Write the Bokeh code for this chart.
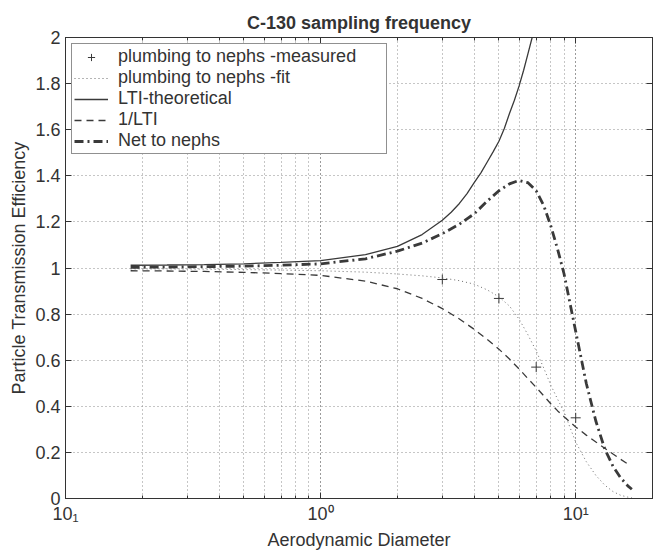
from bokeh.plotting import figure
from bokeh.models import (Range1d, LogAxis, LinearAxis, FixedTicker, LogTicker,
                          Legend, LegendItem, CustomJSTickFormatter)
from bokeh.embed import file_html
from bokeh.resources import INLINE

# ---------------- data ----------------
diam = [0.18, 0.25, 0.35, 0.5, 0.7, 1.0, 1.5, 2.0, 2.5, 3.0, 3.5, 4.0, 4.5, 5.0,
        5.5, 6.0, 6.5, 7.0, 7.5, 8.0, 8.5, 9.0, 10, 11, 12, 13, 14, 15, 16, 16.6]

fit_eff = [0.996, 0.996, 0.995, 0.993, 0.991, 0.988, 0.982, 0.974, 0.966, 0.957,
           0.945, 0.930, 0.905, 0.875, 0.835, 0.778, 0.710, 0.640, 0.565, 0.490,
           0.430, 0.375, 0.245, 0.160, 0.100, 0.058, 0.030, 0.014, 0.006, 0.003]

lti_diam = [0.18, 0.25, 0.35, 0.5, 0.7, 1.0, 1.5, 2.0, 2.5, 3.0, 3.25, 3.5, 3.75,
            4.0, 4.25, 4.5, 4.75, 5.0, 5.25, 5.5, 5.75, 6.0, 6.25, 6.5, 6.75, 7.0, 7.5]
lti_eff = [1.012, 1.013, 1.015, 1.018, 1.024, 1.032, 1.058, 1.094, 1.145, 1.207,
           1.242, 1.280, 1.323, 1.370, 1.413, 1.460, 1.505, 1.550, 1.605, 1.670,
           1.728, 1.790, 1.858, 1.930, 2.000, 2.070, 2.250]

inv_diam = [0.18, 0.25, 0.35, 0.5, 0.7, 1.0, 1.5, 2.0, 2.5, 3.0, 3.5, 4.0, 4.5,
            5.0, 5.5, 6.0, 6.5, 7.0, 7.5, 8.0, 8.5, 9.0, 10, 11, 12, 13, 14, 15, 16]
inv_lti_eff = [0.988, 0.987, 0.985, 0.981, 0.976, 0.968, 0.943, 0.910, 0.868, 0.824,
               0.779, 0.734, 0.690, 0.648, 0.605, 0.562, 0.520, 0.482, 0.445, 0.410,
               0.380, 0.355, 0.310, 0.275, 0.245, 0.218, 0.193, 0.170, 0.150]

net_eff = [1.003, 1.004, 1.006, 1.008, 1.012, 1.018, 1.040, 1.073, 1.108, 1.149,
           1.190, 1.235, 1.290, 1.335, 1.365, 1.380, 1.370, 1.335, 1.270, 1.180,
           1.080, 0.975, 0.725, 0.500, 0.335, 0.215, 0.140, 0.090, 0.055, 0.040]

meas_diam = [3, 5, 7, 10]
meas_eff = [0.950, 0.868, 0.570, 0.350]

x_tick_vals = [0.1, 1, 10]
x_tick_labels = ["10\u2081", "10\u2070", "10\u00b9"]
y_tick_vals = [0, 0.2, 0.4, 0.6, 0.8, 1.0, 1.2, 1.4, 1.6, 1.8, 2.0]
y_tick_labels = ["0", "0.2", "0.4", "0.6", "0.8", "1", "1.2", "1.4", "1.6", "1.8", "2"]

title_text = "C-130 sampling frequency"
x_label = "Aerodynamic Diameter"
y_label = "Particle Transmission Efficiency"
legend_labels = ["plumbing to nephs -measured", "plumbing to nephs -fit",
                 "LTI-theoretical", "1/LTI", "Net to nephs"]

# ---------------- styling ----------------
FONT = "Liberation Sans"
INK = "#333333"
LINE = "#3a3a3a"
GRID = "#8c8c8c"
FS = "18px"

p = figure(width=654, height=552, x_axis_type="log",
           x_range=Range1d(0.1, 20), y_range=Range1d(0, 2),
           output_backend="svg", toolbar_location=None, title=title_text,
           min_border_left=65, min_border_right=2, min_border_top=37,
           min_border_bottom=52)

p.background_fill_color = "white"
p.border_fill_color = "white"
p.outline_line_color = INK
p.outline_line_width = 1

p.title.align = "center"
p.title.text_font = FONT
p.title.text_font_size = FS
p.title.text_font_style = "bold"
p.title.text_color = INK

fmt_code = """
let best = 0, bd = 1e9;
for (let i = 0; i < vals.length; i++) {
  const dd = log ? Math.abs(Math.log10(tick) - Math.log10(vals[i]))
                 : Math.abs(tick - vals[i]);
  if (dd < bd) { bd = dd; best = i; }
}
return labs[best];
"""

blank_code = "return ' ';"

xa = p.xaxis[0]
xa.ticker = LogTicker(num_minor_ticks=10)
xa.formatter = CustomJSTickFormatter(args=dict(vals=x_tick_vals, labs=x_tick_labels, log=True), code=fmt_code)
ya = p.yaxis[0]
ya.ticker = FixedTicker(ticks=y_tick_vals, minor_ticks=[])
ya.formatter = CustomJSTickFormatter(args=dict(vals=y_tick_vals, labs=y_tick_labels, log=False), code=fmt_code)

xa.axis_label = x_label
ya.axis_label = y_label
for ax in (xa, ya):
    ax.axis_label_text_font = FONT
    ax.axis_label_text_font_size = FS
    ax.axis_label_text_font_style = "normal"
    ax.axis_label_text_color = INK
    ax.major_label_text_font = FONT
    ax.major_label_text_font_size = FS
    ax.major_label_text_color = INK
    ax.axis_line_color = INK
    ax.major_tick_line_color = INK
    ax.minor_tick_line_color = INK
    ax.major_tick_in = 6
    ax.major_tick_out = 0
    ax.minor_tick_in = 3
    ax.minor_tick_out = 0
    ax.major_label_standoff = 5
    ax.axis_label_standoff = 3

top_ax = LogAxis(ticker=LogTicker(num_minor_ticks=10),
                 formatter=CustomJSTickFormatter(code=blank_code),
                 major_label_text_font_size="2px", major_label_text_color=None,
                 major_tick_in=6, major_tick_out=0, minor_tick_in=3, minor_tick_out=0,
                 axis_line_color=INK, major_tick_line_color=INK, minor_tick_line_color=INK,
                 major_label_standoff=0)
right_ax = LinearAxis(ticker=FixedTicker(ticks=y_tick_vals, minor_ticks=[]),
                      formatter=CustomJSTickFormatter(code=blank_code),
                      major_label_text_font_size="2px", major_label_text_color=None,
                      major_tick_in=6, major_tick_out=0, minor_tick_in=0, minor_tick_out=0,
                      axis_line_color=INK, major_tick_line_color=INK,
                      major_label_standoff=0)
p.add_layout(top_ax, "above")
p.add_layout(right_ax, "right")

p.xgrid.grid_line_color = GRID
p.xgrid.grid_line_dash = "1 3"
p.xgrid.minor_grid_line_color = GRID
p.xgrid.minor_grid_line_dash = "1 3"
p.ygrid.grid_line_color = GRID
p.ygrid.grid_line_dash = "1 3"

# ---------------- glyphs ----------------
r_meas = p.scatter(meas_diam, meas_eff, marker="cross", size=10, line_color=LINE, line_width=1)
r_fit = p.line(diam, fit_eff, line_color="#6a6a6a", line_width=1, line_dash="1 3")
r_lti = p.line(lti_diam, lti_eff, line_color=LINE, line_width=1.3)
r_inv = p.line(inv_diam, inv_lti_eff, line_color=LINE, line_width=1.3, line_dash="7 5")
r_net = p.line(diam, net_eff, line_color=LINE, line_width=2.8, line_dash="9 4 2 4")

legend = Legend(items=[LegendItem(label=legend_labels[0], renderers=[r_meas]),
                       LegendItem(label=legend_labels[1], renderers=[r_fit]),
                       LegendItem(label=legend_labels[2], renderers=[r_lti]),
                       LegendItem(label=legend_labels[3], renderers=[r_inv]),
                       LegendItem(label=legend_labels[4], renderers=[r_net])],
                location="top_left", margin=6, padding=2, spacing=0,
                label_height=18, glyph_height=18, glyph_width=34, label_standoff=10,
                label_width=266,
                label_text_font=FONT, label_text_font_size=FS, label_text_color=INK,
                border_line_color="#222222", border_line_width=1,
                background_fill_color="white", background_fill_alpha=1)
p.add_layout(legend)

open("out.html", "w").write(file_html(p, INLINE))
